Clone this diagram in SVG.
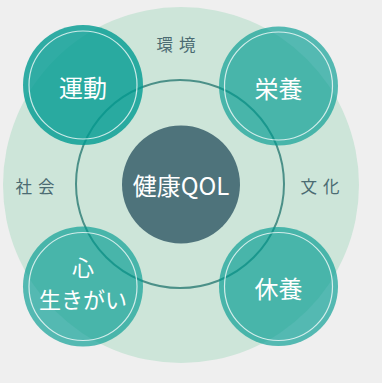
<svg xmlns="http://www.w3.org/2000/svg" width="382" height="383" viewBox="0 0 382 383">
<defs>
<style>
.lbl{font-family:"Noto Sans CJK JP","Noto Sans",sans-serif;font-size:16.5px;fill:#4b6b72;letter-spacing:6px;text-anchor:middle;dominant-baseline:central}
.sat{font-family:"Noto Sans CJK JP","Noto Sans",sans-serif;font-size:24px;fill:#ffffff;text-anchor:middle;dominant-baseline:central}
.disc{fill:#009b91;fill-opacity:0.65}
.ring{fill:none;stroke:#ffffff;stroke-opacity:0.75;stroke-width:1.2}
</style>
</defs>
<rect width="382" height="383" fill="#efefef"/>
<g id="outer">
<circle cx="181" cy="185" r="178" fill="#cde5d9"/>
</g>
<g id="connectors">
<circle cx="180" cy="184" r="104" fill="none" stroke="#4b9088" stroke-width="2"/>
</g>
<g id="center">
<circle cx="181" cy="184.5" r="59" fill="#4e737b"/>
<text class="sat" x="181" y="184.5">健康QOL</text>
</g>
<g id="n-undou">
<circle class="disc" cx="83" cy="85" r="60" style="fill-opacity:0.8"/>
<circle class="ring" cx="83" cy="85" r="54"/>
<text class="sat" x="83" y="86">運動</text>
</g>
<g id="n-eiyou">
<circle class="disc" cx="278.5" cy="86" r="59.5"/>
<circle class="ring" cx="278.5" cy="86" r="54"/>
<text class="sat" x="278.5" y="87">栄養</text>
</g>
<g id="n-kokoro">
<circle class="disc" cx="83" cy="286.5" r="60"/>
<circle class="ring" cx="83" cy="286.5" r="54"/>
<text class="sat" x="83" y="266" style="font-size:22px">心</text>
<text class="sat" x="83" y="298" style="font-size:22px">生きがい</text>
</g>
<g id="n-kyuuyou">
<circle class="disc" cx="278.5" cy="286.5" r="59.5"/>
<circle class="ring" cx="278.5" cy="286.5" r="54"/>
<text class="sat" x="278.5" y="287">休養</text>
</g>
<g id="labels">
<text class="lbl" x="179" y="44">環境</text>
<text class="lbl" x="38" y="186">社会</text>
<text class="lbl" x="323" y="186">文化</text>
</g>
</svg>
